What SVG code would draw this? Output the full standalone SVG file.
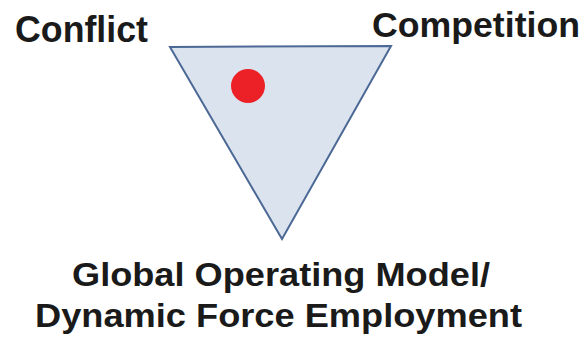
<svg xmlns="http://www.w3.org/2000/svg" width="584" height="337" viewBox="0 0 584 337">
<style>
.t{font-family:"Liberation Sans",Arial,sans-serif;font-weight:bold;fill:#1a1a1a}
</style>
<rect width="584" height="337" fill="#ffffff"/>
<g id="triangle">
<polygon points="170,47 391,46 282,239" fill="#dbe3ef" stroke="#4c6995" stroke-width="2" stroke-linejoin="miter"/>
</g>
<g id="dot">
<circle cx="248" cy="86" r="17" fill="#ec2027"/>
</g>
<g id="conflict">
<text class="t" x="15" y="42" font-size="36" textLength="133" lengthAdjust="spacingAndGlyphs">Conflict</text>
</g>
<g id="competition">
<text class="t" x="372" y="37" font-size="35" textLength="208" lengthAdjust="spacingAndGlyphs">Competition</text>
</g>
<g id="model">
<text class="t" x="72" y="286" font-size="33" textLength="418" lengthAdjust="spacingAndGlyphs">Global Operating Model/</text>
<text class="t" x="35" y="327" font-size="33" textLength="487" lengthAdjust="spacingAndGlyphs">Dynamic Force Employment</text>
</g>
<g id="connectors"></g>
</svg>
